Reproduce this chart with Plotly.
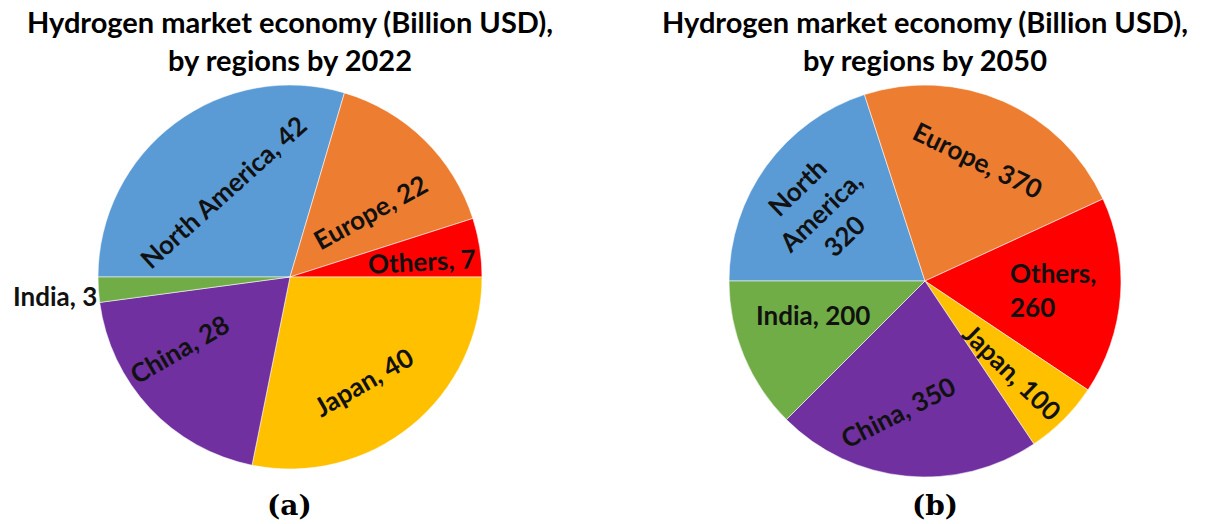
import plotly.graph_objects as go

# Regional hydrogen market size (Billion USD)
regions = ["North America", "Europe", "Others", "Japan", "China", "India"]
values_2022 = [42, 22, 7, 40, 28, 3]
values_2050 = [320, 370, 260, 100, 350, 200]
slice_colors = ["#5B9BD5", "#ED7D31", "#FF0000", "#FFC000", "#7030A0", "#70AD47"]

titles = [
    "Hydrogen market economy (Billion USD),<br>by regions by 2022",
    "Hydrogen market economy (Billion USD),<br>by regions by 2050",
]
panel_tags = ["(a)", "(b)"]

W, H = 1208, 524

# Pie geometry in pixels: centre x, centre y (from top), radius, panel-tag x
pies = [
    dict(cx=290, cy=277, r=192, tag_x=289),
    dict(cx=925, cy=281, r=196, tag_x=935),
]

# Label placement per slice: offset from pie centre (px), rotation, text template, alignment
label_style_2022 = [
    dict(dx=-67, dy=-85, angle=-42, fmt="{n}, {v}", align="center"),
    dict(dx=80, dy=-65, angle=-29, fmt="{n}, {v}", align="center"),
    dict(dx=132, dy=-16, angle=-3, fmt="{n}, {v}", align="center"),
    dict(dx=73, dy=105, angle=-30, fmt="{n}, {v}", align="center"),
    dict(dx=-111, dy=72, angle=-30, fmt="{n}, {v}", align="center"),
    dict(dx=-235, dy=19, angle=0, fmt="{n}, {v}", align="center"),
]
label_style_2050 = [
    dict(dx=-105, dy=-69, angle=-44, fmt="North<br>America,<br>{v}", align="center"),
    dict(dx=53, dy=-121, angle=26, fmt="{n}, {v}", align="center"),
    dict(dx=128, dy=9, angle=0, fmt="{n},<br>{v}", align="left"),
    dict(dx=87, dy=91, angle=44, fmt="{n}, {v}", align="center"),
    dict(dx=-27, dy=131, angle=-27, fmt="{n}, {v}", align="center"),
    dict(dx=-112, dy=34, angle=0, fmt="{n}, {v}", align="center"),
]

LABEL_FONT = dict(family="Lato, 'Open Sans', sans-serif", size=26, color="#111111")
TITLE_FONT = dict(family="Lato, 'Open Sans', sans-serif", size=29, color="#000000")
TAG_FONT = dict(family="'DejaVu Serif', 'Liberation Serif', serif", size=28, color="#000000")


def px_x(x):
    return x / W


def px_y(y):
    return 1 - y / H


fig = go.Figure()
annotations = []

for geom, vals, styles, title, tag in zip(
    pies, [values_2022, values_2050], [label_style_2022, label_style_2050], titles, panel_tags
):
    cx, cy, r = geom["cx"], geom["cy"], geom["r"]
    fig.add_trace(
        go.Pie(
            labels=regions,
            values=vals,
            sort=False,
            direction="clockwise",
            rotation=270,
            marker=dict(colors=slice_colors, line=dict(color="rgba(255,255,255,0.55)", width=1)),
            textinfo="none",
            hoverinfo="label+value",
            showlegend=False,
            domain=dict(
                x=[px_x(cx - r), px_x(cx + r)],
                y=[px_y(cy + r), px_y(cy - r)],
            ),
        )
    )
    for name, v, st in zip(regions, vals, styles):
        annotations.append(
            dict(
                x=px_x(cx + st["dx"]),
                y=px_y(cy + st["dy"]),
                xref="paper",
                yref="paper",
                text="<b>" + st["fmt"].format(n=name, v=v) + "</b>",
                textangle=st["angle"],
                align=st["align"],
                showarrow=False,
                font=LABEL_FONT,
                xanchor="center",
                yanchor="middle",
            )
        )
    annotations.append(
        dict(
            x=px_x(cx),
            y=px_y(41),
            xref="paper",
            yref="paper",
            text="<b>" + title + "</b>",
            showarrow=False,
            font=TITLE_FONT,
            xanchor="center",
            yanchor="middle",
        )
    )
    annotations.append(
        dict(
            x=px_x(geom["tag_x"]),
            y=px_y(505),
            xref="paper",
            yref="paper",
            text="<b>" + tag + "</b>",
            showarrow=False,
            font=TAG_FONT,
            xanchor="center",
            yanchor="middle",
        )
    )

fig.update_layout(
    width=W,
    height=H,
    margin=dict(l=0, r=0, t=0, b=0),
    paper_bgcolor="white",
    plot_bgcolor="white",
    annotations=annotations,
)

fig.write_html("out.html")
